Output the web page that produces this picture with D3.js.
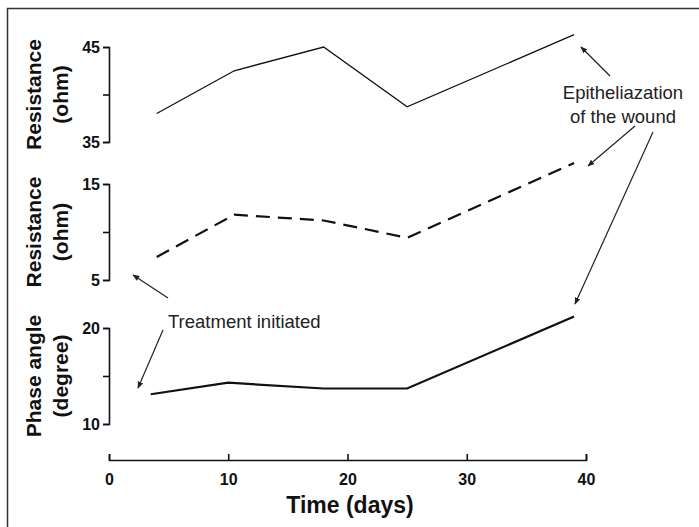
<!DOCTYPE html>
<html>
<head>
<meta charset="utf-8">
<script src="https://cdn.jsdelivr.net/npm/d3@7"></script>
<style>
  body { margin: 0; background: #fff; }
  svg { display: block; }
</style>
</head>
<body>
<div id="chart"></div>
<script>
// time points (days)
const days = [4, 10.5, 18, 25, 39];
const daysPhase = [3.5, 10, 18, 25, 39];

// series values
const resistTop = [38.0, 42.5, 45.0, 38.7, 46.3];
const resistMid = [7.4, 11.8, 11.2, 9.4, 17.2];
const phaseAngle = [13.1, 14.3, 13.7, 13.7, 21.2];

const xTicks = [0, 10, 20, 30, 40];

const panels = [
  { values: resistTop, x: days, domain: [35, 45], range: [142, 47], ticks: [35, 40, 45],
    labels: ['Resistance', '(ohm)'], width: 1.3, dash: null },
  { values: resistMid, x: days, domain: [5, 15], range: [280, 184], ticks: [5, 10, 15],
    labels: ['Resistance', '(ohm)'], width: 2.2, dash: '14,8' },
  { values: phaseAngle, x: daysPhase, domain: [10, 20], range: [424, 328], ticks: [10, 15, 20],
    labels: ['Phase angle', '(degree)'], width: 2.2, dash: null }
];

const W = 699, H = 527;
const svg = d3.select('#chart').append('svg')
  .attr('width', W).attr('height', H);

// frame
svg.append('path')
  .attr('d', `M7.5,${H} L7.5,8.5 L${W},8.5`)
  .attr('fill', 'none').attr('stroke', '#333').attr('stroke-width', 1.5);

const x = d3.scaleLinear().domain([0, 40]).range([109, 586]);

const font = 'Arial, "Liberation Sans", Helvetica, sans-serif';

svg.append('defs').append('marker')
  .attr('id', 'arrow').attr('viewBox', '0 0 10 10')
  .attr('refX', 9).attr('refY', 5)
  .attr('markerWidth', 7).attr('markerHeight', 7)
  .attr('markerUnits', 'userSpaceOnUse')
  .attr('orient', 'auto')
  .append('path').attr('d', 'M0,1 L10,5 L0,9 Z').attr('fill', '#222');

panels.forEach(p => {
  const y = d3.scaleLinear().domain(p.domain).range(p.range);
  const ax = svg.append('g')
    .attr('transform', 'translate(109,0)')
    .call(d3.axisLeft(y).tickValues(p.ticks).tickSize(6).tickSizeOuter(6)
      .tickFormat(v => v === p.ticks[1] ? '' : v));
  ax.attr('font-size', null).attr('font-family', null);
  ax.selectAll('path, line').attr('stroke', '#111').attr('stroke-width', 1.6);
  ax.selectAll('text').style('font-family', font).style('font-weight', 'bold')
    .style('font-size', '16px').attr('fill', '#111').attr('x', -9);

  const cy = (p.range[0] + p.range[1]) / 2;
  p.labels.forEach((t, i) => {
    svg.append('text')
      .attr('transform', `translate(${i === 0 ? 41 : 68},${cy}) rotate(-90)`)
      .attr('text-anchor', 'middle')
      .style('font-family', font).style('font-weight', 'bold')
      .style('font-size', '21px').attr('fill', '#111')
      .text(t);
  });

  const line = d3.line().x((d, i) => x(p.x[i])).y(d => y(d));
  svg.append('path')
    .datum(p.values)
    .attr('d', line)
    .attr('fill', 'none').attr('stroke', '#111')
    .attr('stroke-width', p.width)
    .attr('stroke-dasharray', p.dash);
});

// x axis
const xa = svg.append('g')
  .attr('transform', 'translate(0,460)')
  .call(d3.axisBottom(x).tickValues(xTicks).tickSize(-6).tickSizeOuter(-6));
xa.attr('font-size', null).attr('font-family', null);
xa.selectAll('path, line').attr('stroke', '#111').attr('stroke-width', 1.6);
xa.selectAll('text').style('font-family', font).style('font-weight', 'bold')
  .style('font-size', '16px').attr('fill', '#111').attr('y', 14);

svg.append('text')
  .attr('x', 350).attr('y', 513)
  .attr('text-anchor', 'middle')
  .style('font-family', font).style('font-weight', 'bold')
  .style('font-size', '23px').attr('fill', '#111')
  .text('Time (days)');

// annotations
const annFont = '"Liberation Sans", Arial, Helvetica, sans-serif';
const ann = (tx, ty, t, anchor) => svg.append('text')
  .attr('x', tx).attr('y', ty).attr('text-anchor', anchor)
  .style('font-family', annFont).style('font-size', '18.5px')
  .attr('fill', '#222').text(t);
ann(623, 99, 'Epitheliazation', 'middle');
ann(623, 123, 'of the wound', 'middle');
ann(168, 328, 'Treatment initiated', 'start');

const arrows = [
  [610, 76, 581, 47],
  [635, 126, 588, 166],
  [653, 132, 575, 304],
  [168, 298, 133, 275],
  [163, 330, 138, 388]
];
arrows.forEach(a => {
  svg.append('line')
    .attr('x1', a[0]).attr('y1', a[1]).attr('x2', a[2]).attr('y2', a[3])
    .attr('stroke', '#222').attr('stroke-width', 1.2)
    .attr('marker-end', 'url(#arrow)');
});
</script>
</body>
</html>
